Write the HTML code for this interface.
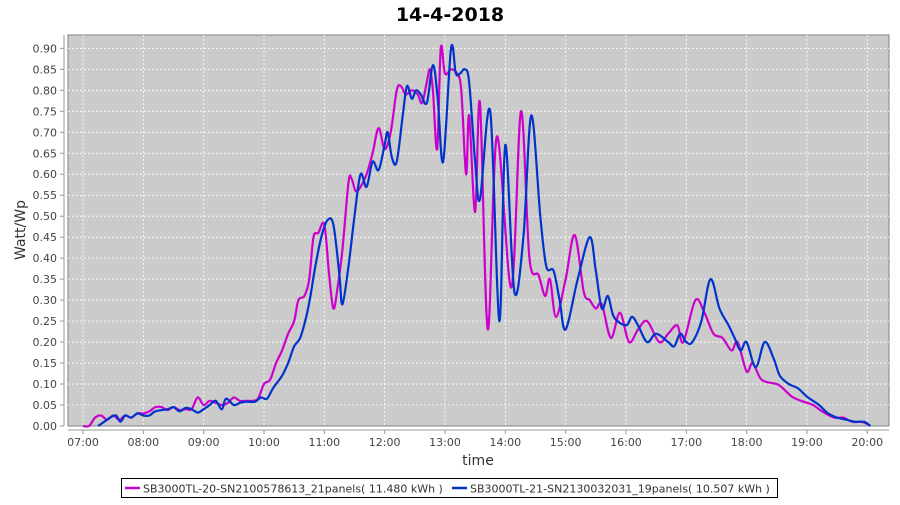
<!DOCTYPE html>
<html><head><meta charset="utf-8"><style>
body{margin:0;background:#fff;width:900px;height:500px;overflow:hidden}
svg{font-family:"DejaVu Sans","Liberation Sans",sans-serif}
</style></head><body>
<svg id="s" width="900" height="500" xmlns="http://www.w3.org/2000/svg">
<text x="450" y="21" text-anchor="middle" font-size="19" font-weight="bold" fill="#000">14-4-2018</text>
<rect x="68" y="35" width="821" height="391" fill="#cbcbcb" stroke="#808080"/>
<g id="grid"></g>
<g id="lines"></g>
<line x1="64" y1="35" x2="64" y2="426" stroke="#999"/>
<line x1="68" y1="430" x2="889" y2="430" stroke="#999"/>
<text transform="translate(25,230) rotate(-90)" text-anchor="middle" font-size="14" fill="#333">Watt/Wp</text>
<text x="478" y="465" text-anchor="middle" font-size="14" fill="#333">time</text>
<rect x="121.5" y="478.5" width="656" height="19" fill="#fff" stroke="#000"/>
<line x1="125" y1="488" x2="140" y2="488" stroke="#cc00cc" stroke-width="2.5"/>
<text x="143" y="492.5" font-size="11" fill="#333">SB3000TL-20-SN2100578613_21panels( 11.480 kWh )</text>
<line x1="452" y1="488" x2="467" y2="488" stroke="#0033cc" stroke-width="2.5"/>
<text x="470" y="492.5" font-size="11" fill="#333">SB3000TL-21-SN2130032031_19panels( 10.507 kWh )</text>
</svg>
<script>
const X=t=>83+(t-7)*60.33, Y=v=>426-v*419.6;
let g=document.getElementById('grid');
let h='';
for(let i=0;i<=18;i++){let v=i*0.05,y=Y(v);
 if(i>0)h+=`<line x1="68" x2="889" y1="${y}" y2="${y}" stroke="#fff" stroke-dasharray="2,2" stroke-width="0.8"/>`;
 h+=`<line x1="60" x2="64" y1="${y}" y2="${y}" stroke="#999"/><text x="57" y="${y+4}" text-anchor="end" font-size="11" fill="#444">${v.toFixed(2)}</text>`;}
for(let k=7;k<=20;k++){let x=X(k);
 h+=`<line y1="35" y2="426" x1="${x}" x2="${x}" stroke="#fff" stroke-dasharray="2,2" stroke-width="0.8"/>`;
 h+=`<line y1="430" y2="434" x1="${x}" x2="${x}" stroke="#999"/><text x="${x}" y="446" text-anchor="middle" font-size="11" fill="#444">${(k<10?'0':'')+k}:00</text>`;}
g.innerHTML=h;
const M=[7.0,0,7.1,0,7.2,.02,7.3,.025,7.4,.015,7.5,.025,7.6,.015,7.7,.025,7.8,.02,7.9,.03,8.0,.03,8.1,.035,8.2,.045,8.3,.045,8.4,.038,8.5,.045,8.6,.038,8.7,.04,8.8,.04,8.9,.068,9.0,.05,9.1,.06,9.2,.055,9.3,.05,9.4,.055,9.5,.068,9.6,.06,9.7,.06,9.8,.06,9.9,.065,10.0,.1,10.1,.11,10.2,.15,10.3,.18,10.4,.22,10.5,.25,10.57,.3,10.67,.31,10.75,.35,10.82,.45,10.9,.46,11.0,.48,11.08,.36,11.15,.28,11.22,.33,11.3,.42,11.4,.58,11.45,.59,11.52,.56,11.6,.57,11.7,.6,11.8,.65,11.9,.71,12.0,.66,12.1,.7,12.2,.8,12.27,.81,12.35,.79,12.45,.8,12.55,.79,12.62,.77,12.7,.82,12.75,.85,12.8,.8,12.87,.66,12.93,.9,13.0,.84,13.1,.85,13.2,.84,13.27,.8,13.35,.6,13.4,.74,13.5,.51,13.58,.77,13.71,.23,13.86,.69,14.1,.33,14.26,.75,14.4,.4,14.55,.36,14.66,.31,14.74,.35,14.84,.26,15.0,.35,15.15,.455,15.3,.32,15.4,.3,15.5,.28,15.6,.29,15.75,.21,15.9,.27,16.05,.2,16.2,.23,16.35,.25,16.55,.2,16.7,.22,16.85,.24,16.95,.2,17.15,.3,17.3,.27,17.45,.22,17.6,.21,17.75,.18,17.85,.2,18.0,.13,18.1,.15,18.25,.11,18.5,.1,18.6,.09,18.75,.07,18.9,.06,19.1,.05,19.25,.035,19.45,.02,19.6,.02,19.75,.01,19.9,.01,20.0,.005];
const B=[7.25,0,7.35,.01,7.45,.02,7.55,.025,7.62,.01,7.7,.025,7.8,.02,7.9,.03,8.0,.025,8.1,.025,8.2,.035,8.4,.04,8.5,.045,8.6,.035,8.7,.043,8.8,.04,8.9,.032,9.0,.04,9.1,.05,9.2,.06,9.3,.04,9.37,.065,9.5,.05,9.6,.055,9.7,.058,9.85,.058,9.95,.068,10.05,.065,10.15,.09,10.3,.12,10.4,.15,10.5,.19,10.6,.21,10.7,.26,10.77,.31,10.85,.38,10.95,.45,11.05,.49,11.15,.48,11.25,.36,11.3,.29,11.4,.38,11.5,.5,11.6,.6,11.7,.57,11.8,.63,11.9,.61,12.0,.67,12.05,.7,12.12,.64,12.2,.63,12.3,.74,12.37,.81,12.45,.78,12.52,.8,12.6,.79,12.7,.77,12.8,.86,12.88,.78,12.97,.63,13.1,.9,13.18,.84,13.25,.84,13.33,.85,13.4,.82,13.5,.63,13.58,.54,13.75,.75,13.9,.25,14.0,.67,14.15,.32,14.3,.45,14.43,.74,14.58,.5,14.68,.38,14.8,.37,14.9,.3,15.0,.23,15.2,.35,15.4,.45,15.5,.37,15.6,.28,15.7,.31,15.8,.26,16.0,.24,16.1,.26,16.2,.24,16.35,.2,16.5,.22,16.7,.2,16.8,.19,16.9,.22,17.0,.2,17.1,.2,17.25,.25,17.4,.35,17.55,.28,17.7,.24,17.8,.21,17.9,.18,18.0,.2,18.15,.14,18.3,.2,18.45,.16,18.55,.12,18.7,.1,18.85,.09,19.0,.07,19.2,.05,19.35,.03,19.5,.02,19.65,.015,19.8,.01,19.95,.01,20.05,0];
function path(a){let p=[];for(let i=0;i<a.length;i+=2)p.push([X(a[i]),Y(a[i+1])]);
 let d=`M${p[0][0]},${p[0][1]}`;
 for(let i=0;i<p.length-1;i++){let p0=p[i-1]||p[i],p1=p[i],p2=p[i+1],p3=p[i+2]||p2;
  d+=`C${p1[0]+(p2[0]-p0[0])/6},${p1[1]+(p2[1]-p0[1])/6} ${p2[0]-(p3[0]-p1[0])/6},${p2[1]-(p3[1]-p1[1])/6} ${p2[0]},${p2[1]}`;}
 return d;}
document.getElementById('lines').innerHTML=
 `<path d="${path(M)}" fill="none" stroke="#cc00cc" stroke-width="2.2"/><path d="${path(B)}" fill="none" stroke="#0033cc" stroke-width="2.2"/>`;
</script>
</body></html>
